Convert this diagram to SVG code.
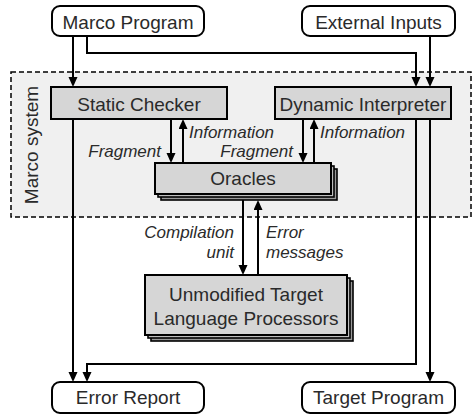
<svg xmlns="http://www.w3.org/2000/svg" width="473" height="415" viewBox="0 0 473 415">
<defs>
<style>
.t{font-family:"Liberation Sans",Arial,sans-serif;font-size:19px;fill:#2a2a2a;text-anchor:middle}
.l{font-family:"Liberation Sans",Arial,sans-serif;font-size:17px;font-style:italic;fill:#2a2a2a}
.r{text-anchor:end}
.term{fill:#fff;stroke:#000;stroke-width:2}
.box{fill:#d6d6d6;stroke:#000;stroke-width:2}
.s1{fill:#bdbdbd;stroke:#000;stroke-width:1.6}
.s2{fill:#999;stroke:#000;stroke-width:1.6}
.c{fill:none;stroke:#000;stroke-width:2}
</style>
<marker id="ah" markerUnits="userSpaceOnUse" markerWidth="10" markerHeight="10" refX="1" refY="4.5" orient="auto">
<path d="M0,0 L10,4.5 L0,9 z" fill="#000"/>
</marker>
</defs>
<rect width="473" height="415" fill="#fff"/>
<g id="marco-system">
<rect x="11" y="72" width="460" height="145" fill="#f0f0f0" stroke="#000" stroke-width="1.5" stroke-dasharray="5,3"/>
<text class="t" transform="translate(38,145) rotate(-90)">Marco system</text>
</g>
<g id="connectors">
<path class="c" d="M73,36 V78" marker-end="url(#ah)"/>
<path class="c" d="M87,36 V53 H416 V78" marker-end="url(#ah)"/>
<path class="c" d="M430,36 V78" marker-end="url(#ah)"/>
<path class="c" d="M171,119 V154" marker-end="url(#ah)"/>
<path class="c" d="M183,163 V128" marker-end="url(#ah)"/>
<path class="c" d="M303,119 V154" marker-end="url(#ah)"/>
<path class="c" d="M314,163 V128" marker-end="url(#ah)"/>
<path class="c" d="M243,194 V266" marker-end="url(#ah)"/>
<path class="c" d="M258,275 V209" marker-end="url(#ah)"/>
<path class="c" d="M73,119 V373" marker-end="url(#ah)"/>
<path class="c" d="M416,119 V364 H87 V373" marker-end="url(#ah)"/>
<path class="c" d="M430,119 V373" marker-end="url(#ah)"/>
</g>
<g id="labels">
<text class="l r" x="161" y="157">Fragment</text>
<text class="l" x="189" y="138">Information</text>
<text class="l r" x="293" y="157">Fragment</text>
<text class="l" x="320" y="138">Information</text>
<text class="l r" x="234" y="238">Compilation</text>
<text class="l r" x="234" y="258">unit</text>
<text class="l" x="266" y="238">Error</text>
<text class="l" x="266" y="258">messages</text>
</g>
<g id="marco-program">
<rect class="term" x="52" y="6" width="152" height="30" rx="8"/>
<text class="t" x="128" y="29">Marco Program</text>
</g>
<g id="external-inputs">
<rect class="term" x="302" y="6" width="153" height="30" rx="8"/>
<text class="t" x="378.5" y="29">External Inputs</text>
</g>
<g id="static-checker">
<rect class="box" x="51" y="87" width="176" height="32"/>
<text class="t" x="139" y="110.5">Static Checker</text>
</g>
<g id="dynamic-interpreter">
<rect class="box" x="275" y="87" width="176" height="32"/>
<text class="t" x="363" y="110.5">Dynamic Interpreter</text>
</g>
<g id="oracles">
<rect class="s2" x="161" y="169" width="176" height="31"/>
<rect class="s1" x="158" y="166" width="176" height="31"/>
<rect class="box" x="155" y="163" width="176" height="31"/>
<text class="t" x="243" y="185">Oracles</text>
</g>
<g id="target-processors">
<rect class="s2" x="151" y="281" width="202" height="60"/>
<rect class="s1" x="148" y="278" width="202" height="60"/>
<rect class="box" x="145" y="275" width="202" height="60"/>
<text class="t" x="246" y="301">Unmodified Target</text>
<text class="t" x="246" y="325">Language Processors</text>
</g>
<g id="error-report">
<rect class="term" x="52" y="382" width="152" height="31" rx="8"/>
<text class="t" x="128" y="404">Error Report</text>
</g>
<g id="target-program">
<rect class="term" x="302" y="382" width="153" height="31" rx="8"/>
<text class="t" x="378.5" y="404">Target Program</text>
</g>
</svg>
